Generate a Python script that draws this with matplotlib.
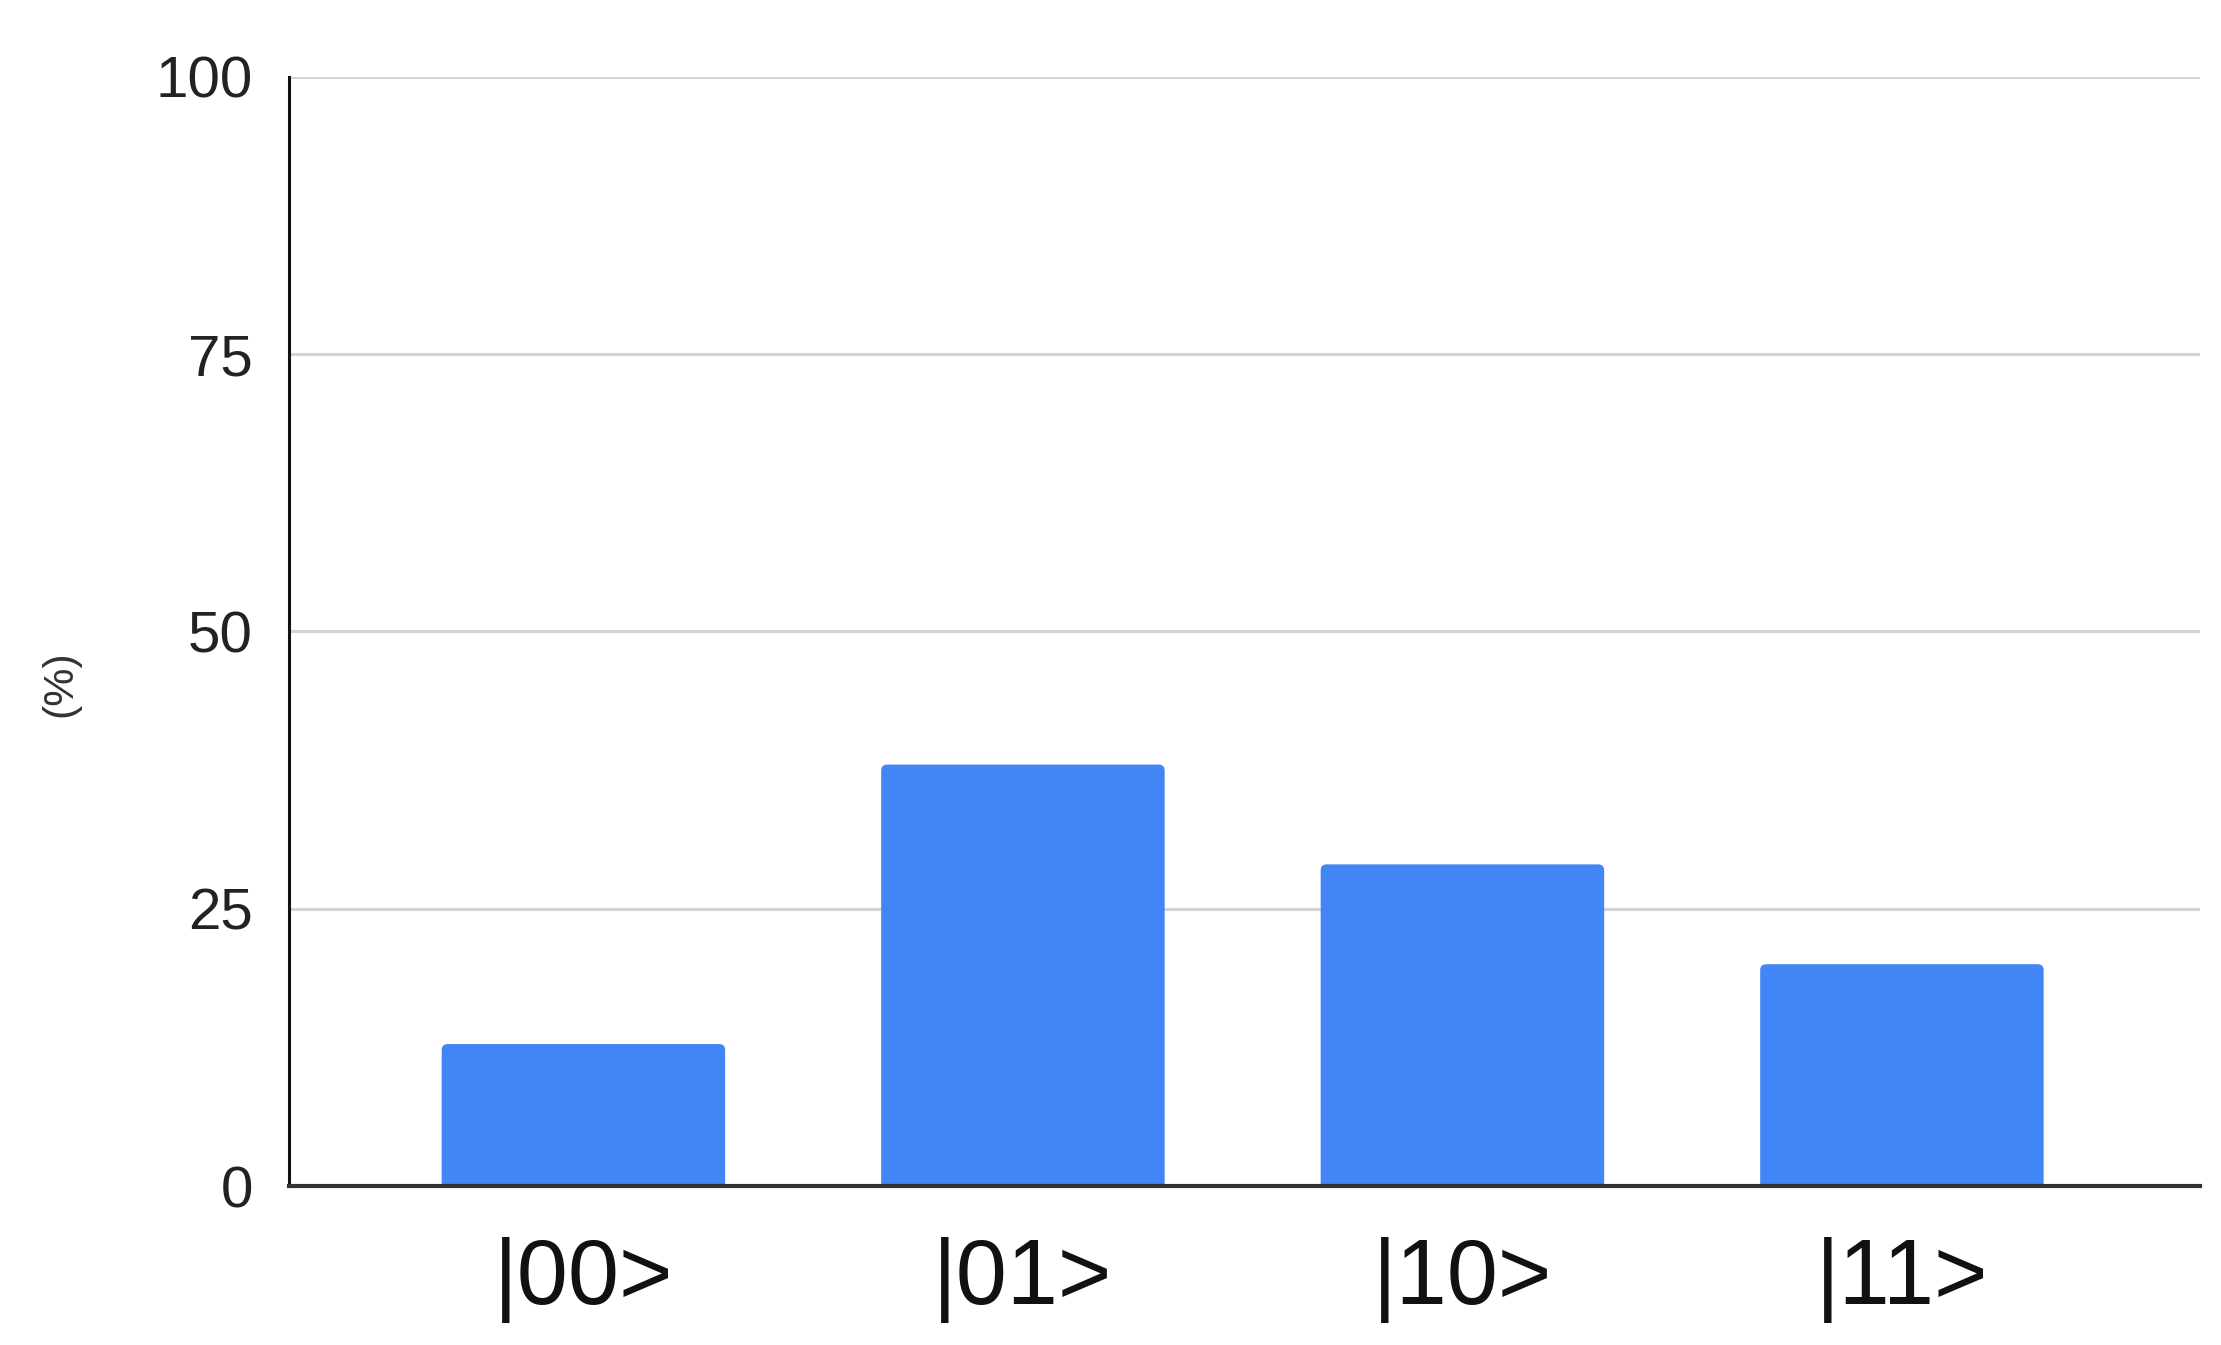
import numpy as np
import matplotlib
matplotlib.use('Agg')
import matplotlib.pyplot as plt
from matplotlib.patches import FancyBboxPatch

# measured state probabilities
states = ['|00>', '|01>', '|10>', '|11>']
percent = [12.8, 38, 29, 20]
yticks = [0, 25, 50, 75, 100]

plt.rcParams['font.family'] = ['Liberation Sans', 'DejaVu Sans']

fig = plt.figure(figsize=(22.21, 13.45), dpi=100)
ax = fig.add_axes([0.1301, 0.1182, 0.8604, 0.8246])

x = np.arange(len(states))
ax.set_xlim(-0.67, 3.678)
ax.set_ylim(0, 100)

bars = ax.bar(x, percent, width=0.645, color='#4285f4', zorder=3)

# small rounded top corners like the original chart tool
p0 = ax.transData.transform((0, 0))
p1 = ax.transData.transform((1, 1))
rad_px = 6
rx = rad_px / (p1[0] - p0[0])
ry = rad_px / (p1[1] - p0[1])
for b in bars:
    b.set_visible(False)
    ax.add_patch(FancyBboxPatch((b.get_x(), -ry), b.get_width(), b.get_height() + ry,
                                boxstyle='round,pad=0,rounding_size=%f' % rx,
                                mutation_aspect=ry / rx,
                                facecolor='#4285f4', edgecolor='none', zorder=3))

ax.set_yticks(yticks)
ax.set_yticklabels([str(t) for t in yticks], fontsize=42, color='#222222')
ax.set_xticks(x)
ax.set_xticklabels(states, fontsize=66, color='#111111')
ax.tick_params(axis='y', length=0, pad=26)
ax.tick_params(axis='x', length=0, pad=37)

# light horizontal grid
ax.grid(axis='y', color='#d4d4d4', linewidth=2.2, zorder=0)
ax.set_axisbelow(True)

for s in ['top', 'right']:
    ax.spines[s].set_visible(False)
ax.spines['left'].set_color('#111111')
ax.spines['left'].set_linewidth(2.2)
ax.spines['bottom'].set_color('#333333')
ax.spines['bottom'].set_linewidth(3)
ax.spines['bottom'].set_zorder(4)

fig.text(0.027, 0.492, '(%)', rotation=90, fontsize=31, color='#333333',
         ha='center', va='center')

fig.savefig('out.png', dpi=100, facecolor='white')
